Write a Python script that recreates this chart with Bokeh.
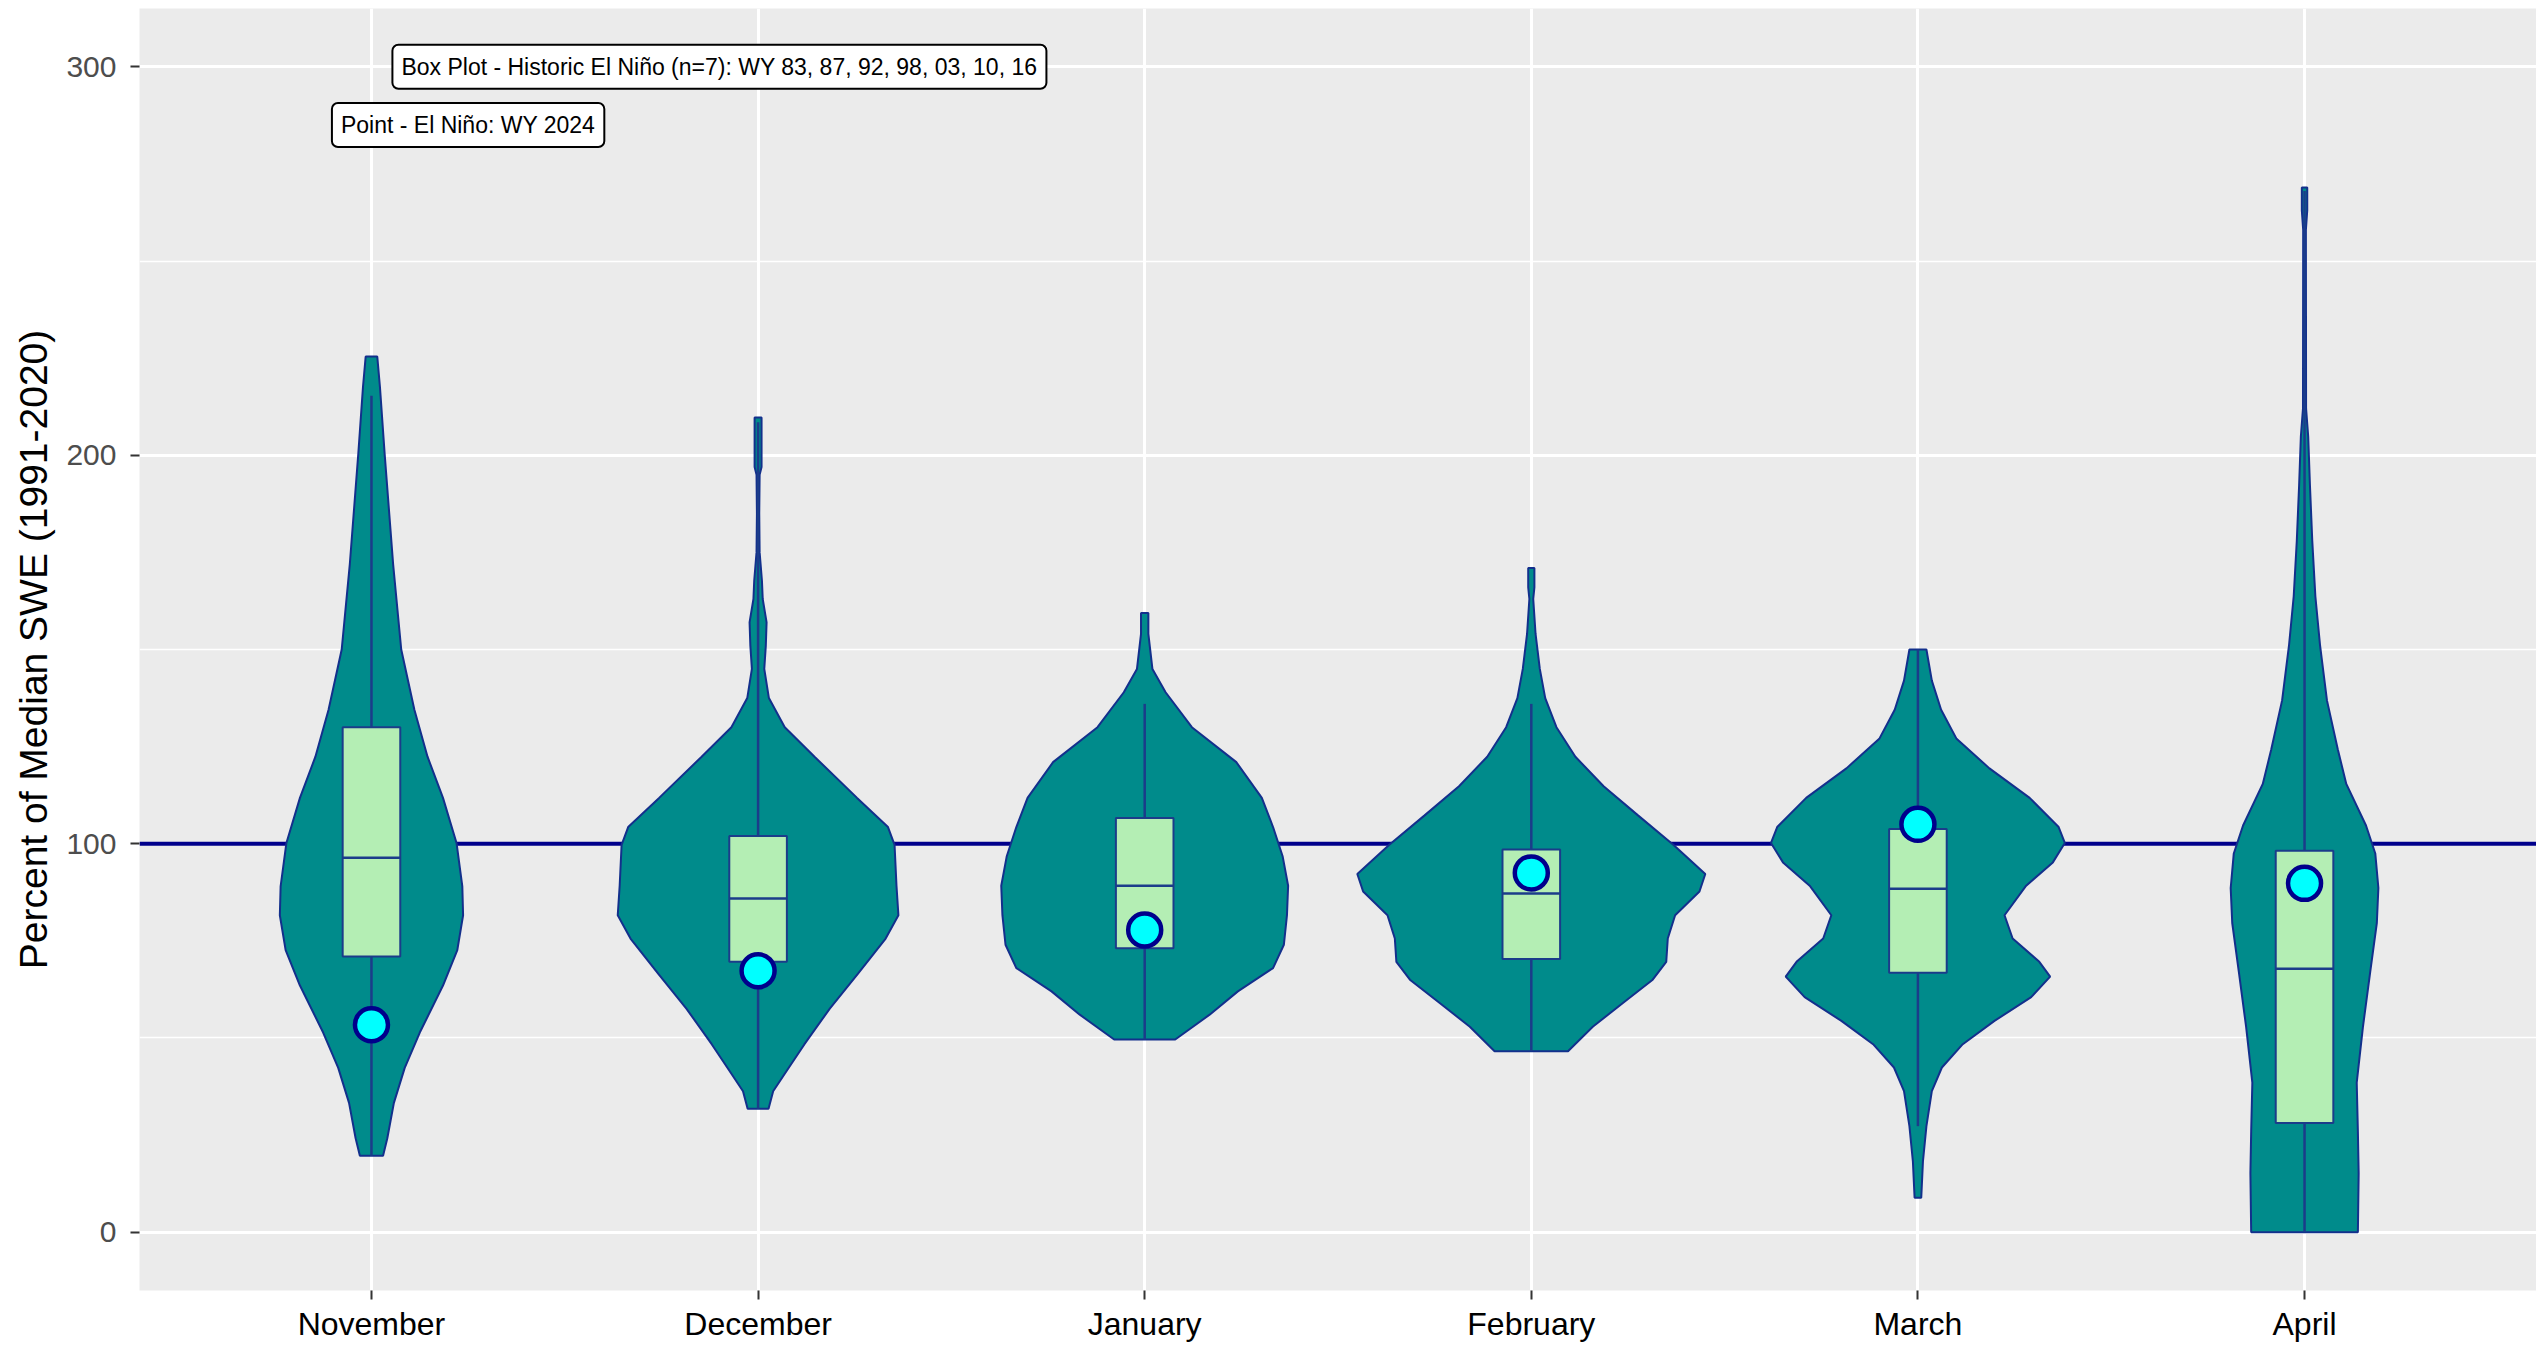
from bokeh.plotting import figure
from bokeh.models import Range1d, FixedTicker, Label, Span
from bokeh.embed import file_html
from bokeh.resources import INLINE

# ---------------- data ----------------
months = ["November", "December", "January", "February", "March", "April"]

# violin profiles: value levels (percent of median) and half-width (category units)
nov_y = [19.7, 24.2, 33.3, 42.3, 51.4, 63.5, 72.6, 81.6, 89.0, 100.2, 111.8, 122.4, 134.5, 150.0, 172.0, 200.5, 217.5, 225.4]
nov_w = [0.030, 0.041, 0.058, 0.086, 0.125, 0.185, 0.222, 0.237, 0.235, 0.220, 0.185, 0.145, 0.111, 0.077, 0.056, 0.034, 0.022, 0.015]

dec_y = [31.8, 36.3, 40.8, 48.4, 57.5, 66.5, 75.6, 81.6, 89.2, 99.7, 104.3, 111.8, 122.4, 130.0, 137.5, 145.0, 151.0, 157.0, 163.0, 167.7, 175.0, 185.0, 195.0, 197.0, 209.7]
dec_w = [0.027, 0.039, 0.069, 0.120, 0.185, 0.258, 0.330, 0.363, 0.358, 0.353, 0.336, 0.256, 0.146, 0.069, 0.028, 0.016, 0.020, 0.022, 0.012, 0.010, 0.004, 0.003, 0.004, 0.009, 0.009]

jan_y = [49.6, 56.0, 62.0, 68.0, 74.0, 81.6, 89.2, 96.7, 104.3, 111.8, 121.0, 130.0, 139.0, 145.0, 154.0, 159.4]
jan_w = [0.079, 0.168, 0.241, 0.332, 0.360, 0.368, 0.371, 0.357, 0.332, 0.303, 0.237, 0.122, 0.054, 0.020, 0.0095, 0.0095]

feb_y = [46.6, 52.9, 59.0, 65.0, 69.6, 75.6, 81.6, 87.7, 92.2, 99.7, 107.3, 114.8, 122.4, 130.0, 137.5, 145.0, 154.0, 163.0, 166.0, 171.0]
feb_w = [0.095, 0.159, 0.237, 0.314, 0.349, 0.353, 0.372, 0.435, 0.450, 0.368, 0.276, 0.187, 0.114, 0.065, 0.036, 0.022, 0.011, 0.005, 0.008, 0.008]

mar_y = [8.9, 18.2, 27.3, 36.3, 42.4, 48.4, 54.4, 60.5, 65.8, 69.6, 75.6, 81.6, 89.2, 95.2, 100.2, 104.3, 111.8, 119.4, 127.0, 134.5, 142.0, 150.0]
mar_w = [0.0086, 0.013, 0.022, 0.036, 0.062, 0.116, 0.198, 0.293, 0.342, 0.314, 0.245, 0.224, 0.280, 0.349, 0.380, 0.364, 0.289, 0.185, 0.100, 0.060, 0.036, 0.022]

apr_y = [0.0, 15.2, 25.9, 38.5, 52.8, 67.1, 79.6, 88.6, 97.5, 104.7, 115.4, 124.3, 136.9, 151.2, 163.7, 178.0, 192.3, 204.8, 212.0, 258.0, 263.0, 268.9]
apr_w = [0.138, 0.140, 0.138, 0.135, 0.151, 0.170, 0.187, 0.191, 0.183, 0.159, 0.108, 0.086, 0.058, 0.040, 0.028, 0.020, 0.014, 0.0095, 0.004, 0.0035, 0.007, 0.007]

# box plot statistics (historic El Nino years)
box_q1 = [71.0, 69.6, 73.1, 70.3, 66.8, 28.1]
box_median = [96.4, 85.9, 89.2, 87.2, 88.4, 67.8]
box_q3 = [130.0, 102.0, 106.6, 98.5, 103.8, 98.2]
whisker_low = [19.7, 31.8, 49.6, 46.6, 27.3, 0.0]
whisker_high = [215.3, 208.5, 136.0, 136.0, 150.0, 268.0]

# WY 2024 points
wy2024 = [53.4, 67.3, 77.8, 92.5, 105.0, 89.8]

y_ticks = [0, 100, 200, 300]
y_minor = [50, 150, 250]

# ---------------- figure ----------------
FONT = "Liberation Sans"
VIOLIN_FILL = "#008B8B"
VIOLIN_LINE = "#13308C"
BOX_FILL = "#B4EEB4"
BOX_LINE = "#1B3C8A"

positions = list(range(1, len(months) + 1))

p = figure(width=2536, height=1344, output_backend="svg", toolbar_location=None,
           x_range=Range1d(0.4, 6.6), y_range=Range1d(-15, 315),
           min_border_left=139, min_border_right=0, min_border_top=8, min_border_bottom=40)

p.background_fill_color = "#EBEBEB"
p.border_fill_color = "white"
p.outline_line_color = None

# grid
p.xaxis.ticker = FixedTicker(ticks=positions)
p.yaxis.ticker = FixedTicker(ticks=y_ticks, minor_ticks=y_minor)
p.xgrid.grid_line_color = "white"
p.xgrid.grid_line_width = 3
p.ygrid.grid_line_color = "white"
p.ygrid.grid_line_width = 3
p.ygrid.minor_grid_line_color = "white"
p.ygrid.minor_grid_line_width = 1.5

# reference line at 100 %
p.add_layout(Span(location=100, dimension="width", line_color="#00008B",
                  line_width=4, level="underlay"))

# violins
violin_y = [nov_y, dec_y, jan_y, feb_y, mar_y, apr_y]
violin_w = [nov_w, dec_w, jan_w, feb_w, mar_w, apr_w]
xs, ys = [], []
for pos, vy, vw in zip(positions, violin_y, violin_w):
    xs.append([pos + w for w in vw] + [pos - w for w in reversed(vw)])
    ys.append(list(vy) + list(reversed(vy)))
p.patches(xs, ys, fill_color=VIOLIN_FILL, line_color=VIOLIN_LINE, line_width=2)

# box plots
half_box = 0.0745
p.segment(x0=positions, y0=box_q3, x1=positions, y1=whisker_high, line_color=BOX_LINE, line_width=2.5)
p.segment(x0=positions, y0=whisker_low, x1=positions, y1=box_q1, line_color=BOX_LINE, line_width=2.5)
p.quad(left=[x - half_box for x in positions], right=[x + half_box for x in positions],
       bottom=box_q1, top=box_q3, fill_color=BOX_FILL, line_color=BOX_LINE, line_width=2)
p.segment(x0=[x - half_box for x in positions], y0=box_median,
          x1=[x + half_box for x in positions], y1=box_median,
          line_color=BOX_LINE, line_width=2.5)

# WY 2024 points
p.scatter(x=positions, y=wy2024, size=33, fill_color="#00FFFF", line_color="#00008B", line_width=4.5)

# labels
lab1 = Label(x=1.9, y=300, text="Box Plot - Historic El Niño (n=7): WY 83, 87, 92, 98, 03, 10, 16",
             text_align="center", text_baseline="middle", text_font=FONT, text_font_size="23px",
             text_color="black", background_fill_color="white", border_line_color="black",
             border_line_width=2, padding=9, border_radius=6)
lab2 = Label(x=1.25, y=285, text="Point - El Niño: WY 2024",
             text_align="center", text_baseline="middle", text_font=FONT, text_font_size="23px",
             text_color="black", background_fill_color="white", border_line_color="black",
             border_line_width=2, padding=9, border_radius=6)
p.add_layout(lab1)
p.add_layout(lab2)

# axes
p.xaxis.major_label_overrides = {pos: m for pos, m in zip(positions, months)}
for ax in (p.xaxis[0], p.yaxis[0]):
    ax.axis_line_color = None
    ax.major_tick_line_color = "#333333"
    ax.major_tick_line_width = 2
    ax.major_tick_out = 9
    ax.major_tick_in = 0
    ax.minor_tick_line_color = None
    ax.major_label_text_font = FONT

p.xaxis.major_label_text_font_size = "32px"
p.xaxis.major_label_text_color = "black"
p.xaxis.major_label_standoff = 6

p.yaxis.major_label_text_font_size = "30px"
p.yaxis.major_label_text_color = "#4D4D4D"
p.yaxis.major_label_standoff = 14
p.yaxis.axis_label = "Percent of Median SWE (1991-2020)"
p.yaxis.axis_label_text_font = FONT
p.yaxis.axis_label_text_font_size = "39px"
p.yaxis.axis_label_text_font_style = "normal"
p.yaxis.axis_label_text_color = "black"
p.yaxis.axis_label_standoff = 8

open("out.html", "w").write(file_html(p, INLINE))
